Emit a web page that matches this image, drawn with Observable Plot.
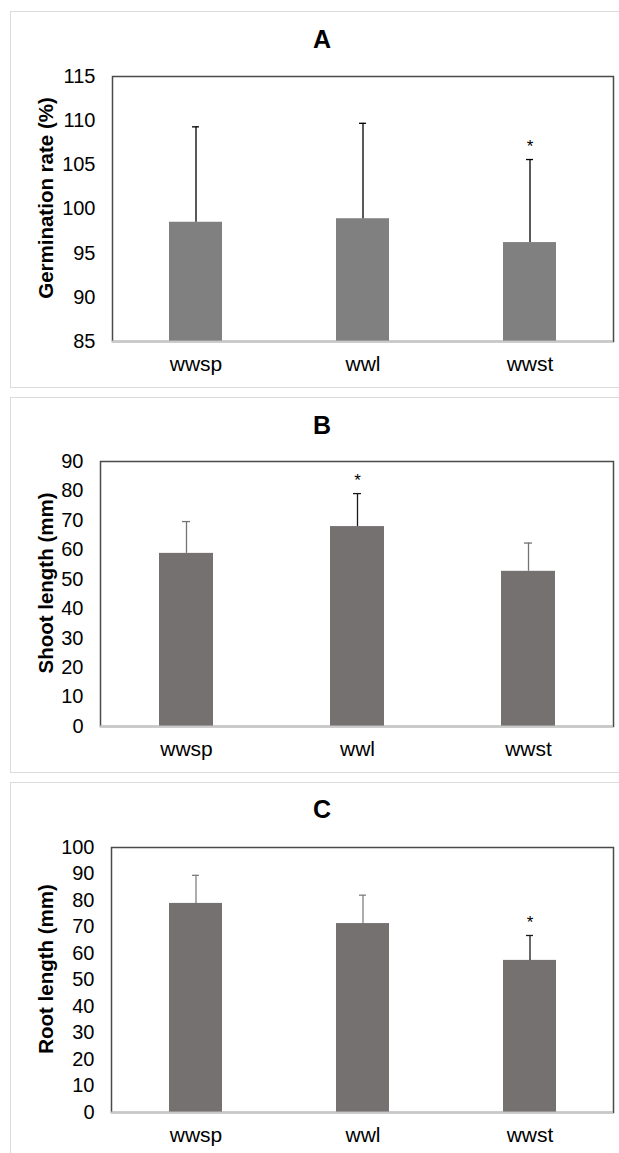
<!DOCTYPE html>
<html>
<head>
<meta charset="utf-8">
<script src="https://cdn.jsdelivr.net/npm/d3@7"></script>
<script src="https://cdn.jsdelivr.net/npm/@observablehq/plot@0.6"></script>
<style>
  body { margin: 0; background: #fff; }
  #root { position: relative; width: 619px; height: 1153px; overflow: hidden; background: #fff; font-family: "Liberation Sans", Arial, sans-serif; }
  .panel { position: absolute; left: 10px; width: 640px; border: 1px solid #dcdcdc; box-sizing: border-box; }
  .title { position: absolute; transform: translate(-50%, -50%); font-weight: bold; font-size: 25px; color: #000; white-space: nowrap; }
  .ylab { position: absolute; transform: translate(-50%, -50%) rotate(-90deg); font-weight: bold; font-size: 20.5px; color: #000; white-space: nowrap; }
  .chart { position: absolute; left: 0; }
</style>
</head>
<body>
<div id="root"></div>
<script>
// ---- data ----
const categories = ["wwsp", "wwl", "wwst"];

const germinationMean = [98.5, 98.9, 96.2];
const germinationSD   = [10.8, 10.8, 9.4];
const germinationSig  = ["", "", "*"];
const germinationTicks = [85, 90, 95, 100, 105, 110, 115];

const shootMean = [58.8, 67.9, 52.7];
const shootSD   = [10.8, 11.2, 9.6];
const shootSig  = ["", "*", ""];
const shootTicks = [0, 10, 20, 30, 40, 50, 60, 70, 80, 90];

const rootMean = [78.9, 71.3, 57.4];
const rootSD   = [10.6, 10.7, 9.4];
const rootSig  = ["", "", "*"];
const rootTicks = [0, 10, 20, 30, 40, 50, 60, 70, 80, 90, 100];

// ---- layout ----
const panels = [
  { title: "A", ylabel: "Germination rate (%)", mean: germinationMean, sd: germinationSD, sig: germinationSig, ticks: germinationTicks,
    boxTop: 11, boxBottom: 388, titleY: 39, frameLeft: 112, frameTop: 76, frameBottom: 341, fill: "#808080", errPlain: "#000", errSig: "#000" },
  { title: "B", ylabel: "Shoot length (mm)", mean: shootMean, sd: shootSD, sig: shootSig, ticks: shootTicks,
    boxTop: 397, boxBottom: 773, titleY: 425, frameLeft: 100, frameTop: 461, frameBottom: 726, fill: "#767171", errPlain: "#737373", errSig: "#1a1a1a" },
  { title: "C", ylabel: "Root length (mm)", mean: rootMean, sd: rootSD, sig: rootSig, ticks: rootTicks,
    boxTop: 782, boxBottom: 1170, titleY: 809, frameLeft: 111, frameTop: 847, frameBottom: 1112, fill: "#767171", errPlain: "#808080", errSig: "#1a1a1a" }
];

const W = 619, frameRight = 613, mTop = 20, mBottom = 45;
const root = document.getElementById("root");

for (const p of panels) {
  const box = document.createElement("div");
  box.className = "panel";
  box.style.top = p.boxTop + "px";
  box.style.height = (p.boxBottom - p.boxTop) + "px";
  root.appendChild(box);

  const t = document.createElement("div");
  t.className = "title";
  t.textContent = p.title;
  t.style.left = "322px";
  t.style.top = p.titleY + "px";
  root.appendChild(t);

  const rows = categories.map((c, i) => ({
    cat: c, mean: p.mean[i], upper: p.mean[i] + p.sd[i], sig: p.sig[i]
  }));
  const yMin = p.ticks[0], yMax = p.ticks[p.ticks.length - 1];
  const H = mTop + (p.frameBottom - p.frameTop) + mBottom;

  const chart = Plot.plot({
    width: W,
    height: H,
    marginLeft: p.frameLeft,
    marginRight: W - frameRight,
    marginTop: mTop,
    marginBottom: mBottom,
    style: { fontFamily: "Liberation Sans, Arial, sans-serif", fontSize: "20px", color: "#000", background: "transparent", overflow: "visible" },
    x: { domain: categories, paddingInner: 0.685, paddingOuter: 0.3425, label: null },
    y: { domain: [yMin, yMax], label: null },
    marks: [
      Plot.barY(rows, { x: "cat", y1: yMin, y2: "mean", fill: p.fill }),
      Plot.ruleX(rows, { x: "cat", y1: "mean", y2: "upper", stroke: d => d.sig ? p.errSig : p.errPlain, strokeWidth: 1.3 }),
      Plot.tickY(rows, { x: "cat", y: "upper", stroke: d => d.sig ? p.errSig : p.errPlain, strokeWidth: 1.3, insetLeft: 23, insetRight: 23 }),
      Plot.text(rows.filter(d => d.sig), { x: "cat", y: "upper", text: "sig", dy: -13, fontSize: 17, fill: "#000" }),
      Plot.frame({ stroke: "#4a4a4a", strokeWidth: 1.5 }),
      Plot.ruleY([yMin], { stroke: "#c8c8c8", strokeWidth: 2 }),
      Plot.axisY({ ticks: p.ticks, tickSize: 0, tickPadding: 17, tickFormat: d => String(d), label: null, fontSize: 20 }),
      Plot.axisX({ tickSize: 0, tickPadding: 15, label: null, fontSize: 21 })
    ]
  });
  chart.classList.add("chart");
  chart.style.top = (p.frameTop - mTop) + "px";
  root.appendChild(chart);

  const yl = document.createElement("div");
  yl.className = "ylab";
  yl.textContent = p.ylabel;
  yl.style.left = "45.5px";
  yl.style.top = ((p.frameTop + p.frameBottom) / 2 - 11) + "px";
  root.appendChild(yl);
}
</script>
</body>
</html>
